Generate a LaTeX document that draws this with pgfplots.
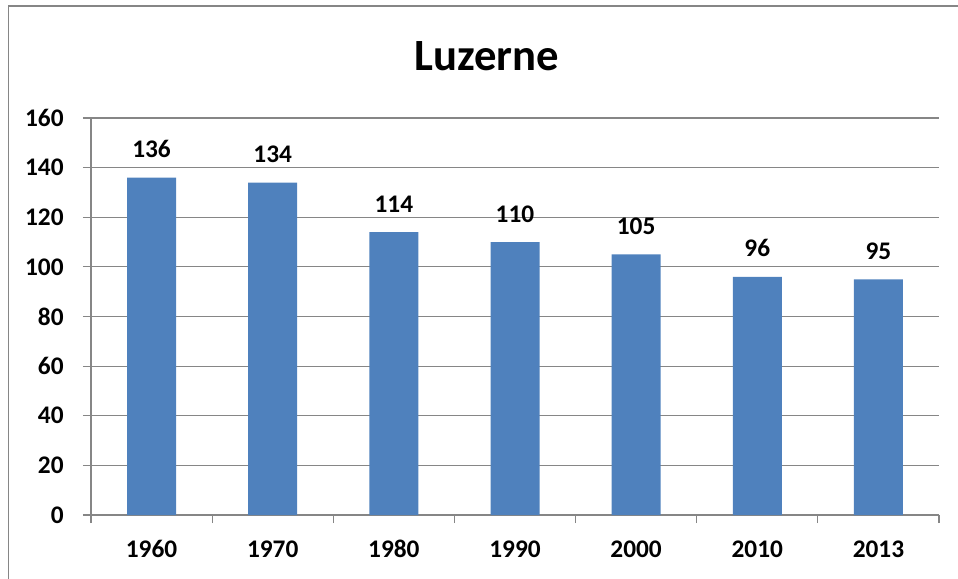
\documentclass[border=0pt]{standalone}
\usepackage{fontspec}
\setmainfont{Carlito}
\usepackage{pgfplots}
\pgfplotsset{compat=1.18}

\definecolor{barblue}{RGB}{79,129,189}
\definecolor{gridgray}{RGB}{134,134,134}

\begin{document}
\begin{tikzpicture}
% picture area: 958x579 px, 1 px = 0.75 pt
\useasboundingbox (0,0) rectangle (718.5pt,-434.25pt);
\draw[gridgray, line width=1.2pt] (6.4pt,-434.25pt) -- (6.4pt,-4.5pt) -- (718.5pt,-4.5pt);
\node[anchor=base, font=\bfseries\fontsize{33.5}{36}\selectfont] at (365.25pt,-52.5pt) {Luzerne};

\begin{axis}[
  at={(68.25pt,-386.25pt)}, anchor=south west,
  scale only axis,
  width=636pt, height=297.75pt,
  ybar, bar width=36.75pt,
  xmin=-0.5, xmax=6.5,
  ymin=0, ymax=160,
  xtick={0,...,6},
  xticklabels={1960,1970,1980,1990,2000,2010,2013},
  minor xtick={-0.5,0.5,...,6.5},
  ytick={0,20,...,160},
  ymajorgrids,
  grid style={gridgray, line width=0.9pt},
  axis x line*=bottom, axis y line*=left,
  x axis line style={-}, y axis line style={-},
  axis line style={gridgray, line width=0.9pt},
  tick align=outside,
  major tick length=6pt, minor tick length=6pt,
  xtick style={draw=none},
  minor x tick style={draw=gridgray, line width=0.9pt},
  ytick style={draw=gridgray, line width=0.9pt},
  tick label style={font=\bfseries\fontsize{19}{20}\selectfont},
  xticklabel style={text height=12pt, text depth=0pt, yshift=-10pt},
  yticklabel style={xshift=-11pt},
  /pgf/number format/assume math mode=true,
  nodes near coords,
  every node near coord/.append style={font=\bfseries\fontsize{19}{20}\selectfont, anchor=base, yshift=15pt},
]
\addplot[fill=barblue, draw=none] coordinates {
  (0,136) (1,134) (2,114) (3,110) (4,105) (5,96) (6,95)
};
\end{axis}
\end{tikzpicture}
\end{document}
